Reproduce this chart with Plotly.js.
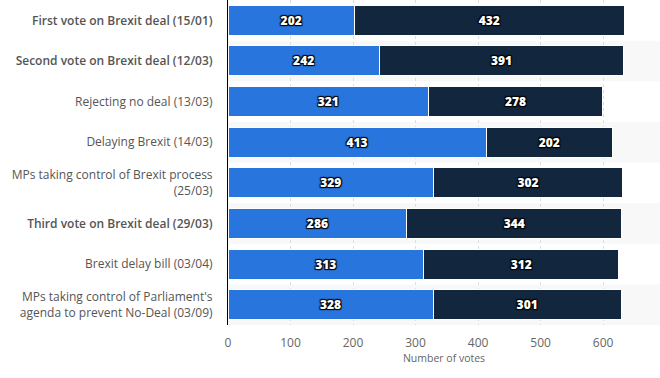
<!DOCTYPE html>
<html><head><meta charset="utf-8">
<script src="https://cdn.plot.ly/plotly-3.0.1.min.js"></script>
<style>html,body{margin:0;padding:0;background:#fff}#c{width:660px;height:378px}</style>
</head><body><div id="c"></div>
<script>
const categories = [
  "<span style='font-weight:600'>First vote on Brexit deal (15/01)</span>",
  "<span style='font-weight:600'>Second vote on Brexit deal (12/03)</span>",
  "Rejecting no deal (13/03)",
  "Delaying Brexit (14/03)",
  "MPs taking control of Brexit process<br>(25/03)",
  "<span style='font-weight:600'>Third vote on Brexit deal (29/03)</span>",
  "Brexit delay bill (03/04)",
  "MPs taking control of Parliament's<br>agenda to prevent No-Deal (03/09)"
];
const ayes = [202, 242, 321, 413, 329, 286, 313, 328];
const noes = [432, 391, 278, 202, 302, 344, 312, 301];
const xTicks = [0, 100, 200, 300, 400, 500, 600];

const txt = {color: "#fff", size: 12, family: "Open Sans, sans-serif", weight: 800,
  shadow: "1px 1px 1px #000, -1px -1px 1px #000, 1px -1px 1px #000, -1px 1px 1px #000"};
function tr(vals, color, name) {
  return {
    type: "bar", orientation: "h", name: name,
    y: categories, x: vals,
    text: vals.map(String), textposition: "inside", insidetextanchor: "middle",
    textfont: txt, constraintext: "none",
    marker: {color: color, line: {color: "#fff", width: 1}},
    hoverinfo: "skip"
  };
}
const shapes = categories.map((c, i) => i % 2 === 1 ? {
  type: "rect", layer: "below", xref: "paper", yref: "y",
  x0: 0, x1: 1, y0: i - 0.5, y1: i + 0.5,
  fillcolor: "#f8f8f8", line: {width: 0}
} : null).filter(Boolean);

Plotly.newPlot("c", [tr(ayes, "#2876dd", "Ayes"), tr(noes, "#12263d", "Noes")], {
  width: 660, height: 378, barmode: "stack", bargap: 0.26,
  showlegend: false,
  margin: {l: 228, r: 0, t: 0, b: 53, pad: 0},
  paper_bgcolor: "#fff", plot_bgcolor: "rgba(0,0,0,0)",
  font: {family: "Open Sans, sans-serif", color: "#666", size: 12},
  xaxis: {range: [0, 691], tickvals: xTicks, ticktext: xTicks.map(String),
    showgrid: true, gridcolor: "#ddd", griddash: "dot", gridwidth: 1,
    zeroline: false, showline: false, ticks: "outside", ticklen: 7, tickcolor: "rgba(0,0,0,0)",
    tickfont: {size: 12, color: "#666"},
    title: {text: "Number of votes", font: {size: 10.5, color: "#666"}, standoff: 4}},
  yaxis: {autorange: "reversed", showgrid: false, zeroline: false,
    showline: true, linecolor: "#000", linewidth: 1, ticks: "outside", ticklen: 12, tickcolor: "rgba(0,0,0,0)",
    tickfont: {size: 12, color: "#555"}, automargin: false},
  shapes: shapes
}, {displayModeBar: false, staticPlot: true});
</script></body></html>
